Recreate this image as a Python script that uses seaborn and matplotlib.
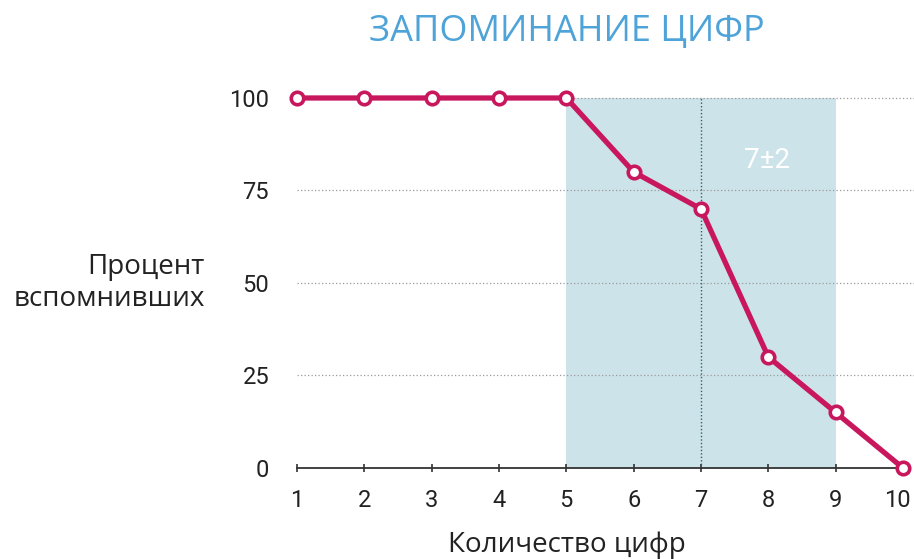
import matplotlib
matplotlib.use("Agg")
import matplotlib.pyplot as plt
import matplotlib.transforms as mtransforms
import seaborn as sns
import pandas as pd

# data
digits = [1, 2, 3, 4, 5, 6, 7, 8, 9, 10]
recalled_pct = [100, 100, 100, 100, 100, 80, 70, 30, 15, 0]
y_ticks = [0, 25, 50, 75, 100]
band_range = (5, 9)
band_center = 7
band_label = "7±2"

title = "ЗАПОМИНАНИЕ ЦИФР"
x_label = "Количество цифр"
y_label = "Процент\nвспомнивших"

df = pd.DataFrame({"digits": digits, "pct": recalled_pct})

sns.set_theme(style="white")
plt.rcParams["font.family"] = ["Roboto", "DejaVu Sans"]

line_color = "#c8175d"
band_color = "#cde3ea"
title_color = "#4ea3d8"
text_color = "#222222"
label_font = ["Open Sans", "DejaVu Sans"]

fig = plt.figure(figsize=(9.14, 5.59), dpi=100)
ax = fig.add_axes([297 / 914, 0.1628, 1 - 297 / 914, 0.695])

ax.set_xlim(1, 10 + 11 / 67.33)
ax.set_ylim(0, 105)

# shaded 7±2 band and centre line
ax.fill_between(band_range, 0, 100, color=band_color, zorder=0, linewidth=0)
ax.plot([band_center, band_center], [0, 100], color="#2f5f6a", lw=1,
        linestyle=(0, (1, 1.5)), zorder=1)
ax.text(7.98, 83, band_label, color="white", fontsize=20, ha="center",
        va="center", zorder=2)

# dotted grid lines
for yv in y_ticks[1:]:
    ax.axhline(yv, color="#9a9a9a", lw=0.9, linestyle=(0, (1, 1.8)), zorder=0.5)

sns.lineplot(data=df, x="digits", y="pct", ax=ax, color=line_color, lw=3.8,
             marker="o", markersize=9, markerfacecolor="white",
             markeredgecolor=line_color, markeredgewidth=2.6, zorder=5,
             clip_on=False)

for s in ["top", "right", "left"]:
    ax.spines[s].set_visible(False)
ax.spines["bottom"].set_bounds(1, 10)
ax.spines["bottom"].set_color("#333333")
ax.spines["bottom"].set_linewidth(1.3)

ax.set_xticks(digits)
ax.set_xticklabels([str(d) for d in digits])
ax.set_yticks(y_ticks)
ax.set_yticklabels([str(v) for v in y_ticks])
ax.tick_params(axis="x", direction="inout", length=6, width=1.2,
               color="#333333", labelsize=17, labelcolor=text_color, pad=12,
               bottom=True)
ax.tick_params(axis="y", length=0, labelsize=17, labelcolor=text_color, pad=20)

# last x label sits against the right edge, nudge it left
last = ax.get_xticklabels()[-1]
last.set_transform(last.get_transform() +
                   mtransforms.ScaledTranslation(-6 / 100, 0, fig.dpi_scale_trans))

ax.set_xlabel("")
ax.set_ylabel("")

fig.text(567 / 914, 1 - 32 / 559, title, color=title_color, fontsize=26,
         ha="center", va="center", family=label_font)
fig.text(567 / 914, 1 - 545 / 559, x_label, color=text_color, fontsize=20,
         ha="center", va="center", family=label_font)
fig.text(205 / 914, 1 - 283 / 559, y_label, color=text_color, fontsize=20,
         ha="right", va="center", linespacing=1.2, multialignment="right",
         family=label_font)

fig.savefig("out.png", dpi=100)
